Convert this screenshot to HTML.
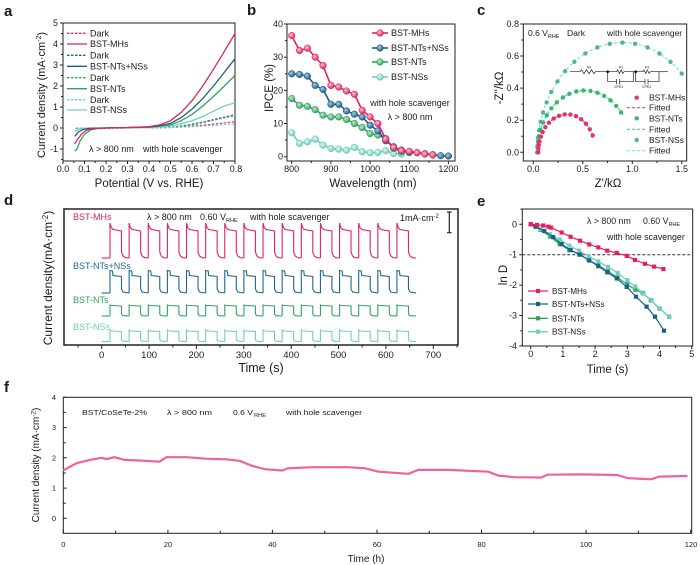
<!DOCTYPE html>
<html><head><meta charset="utf-8"><style>
html,body{margin:0;padding:0;background:#fff;overflow:hidden}
svg{display:block}
text{font-family:"Liberation Sans",Arial,sans-serif;fill:#1a1a1a}
</style></head><body>
<svg width="700" height="565" viewBox="0 0 700 565" xmlns="http://www.w3.org/2000/svg">
<defs>
<radialGradient id="gP" cx="0.4" cy="0.38" r="0.62"><stop offset="0" stop-color="#ffc4d6"/><stop offset="1" stop-color="#e3215f"/></radialGradient>
<radialGradient id="gB" cx="0.4" cy="0.38" r="0.62"><stop offset="0" stop-color="#a9cbe6"/><stop offset="1" stop-color="#1a5e8c"/></radialGradient>
<radialGradient id="gG" cx="0.4" cy="0.38" r="0.62"><stop offset="0" stop-color="#bdeccd"/><stop offset="1" stop-color="#2ea55e"/></radialGradient>
<radialGradient id="gT" cx="0.4" cy="0.38" r="0.62"><stop offset="0" stop-color="#e0f8f1"/><stop offset="1" stop-color="#6fcfbb"/></radialGradient>
<marker id="mbP" markerUnits="userSpaceOnUse" markerWidth="8" markerHeight="8" refX="4" refY="4"><circle cx="4" cy="4" r="3.3" fill="url(#gP)" stroke="#d01c55" stroke-width="0.5"/></marker>
<marker id="mbB" markerUnits="userSpaceOnUse" markerWidth="8" markerHeight="8" refX="4" refY="4"><circle cx="4" cy="4" r="3.3" fill="url(#gB)" stroke="#164f78" stroke-width="0.5"/></marker>
<marker id="mbG" markerUnits="userSpaceOnUse" markerWidth="8" markerHeight="8" refX="4" refY="4"><circle cx="4" cy="4" r="3.3" fill="url(#gG)" stroke="#25904f" stroke-width="0.5"/></marker>
<marker id="mbT" markerUnits="userSpaceOnUse" markerWidth="8" markerHeight="8" refX="4" refY="4"><circle cx="4" cy="4" r="3.3" fill="url(#gT)" stroke="#5bbda8" stroke-width="0.5"/></marker>
<marker id="mcP" markerUnits="userSpaceOnUse" markerWidth="6" markerHeight="6" refX="3" refY="3"><circle cx="3" cy="3" r="2.2" fill="#e8306a"/></marker>
<marker id="mcG" markerUnits="userSpaceOnUse" markerWidth="6" markerHeight="6" refX="3" refY="3"><circle cx="3" cy="3" r="2.2" fill="#3bb56e"/></marker>
<marker id="mcT" markerUnits="userSpaceOnUse" markerWidth="6" markerHeight="6" refX="3" refY="3"><circle cx="3" cy="3" r="2.2" fill="#4fb594"/></marker>
<marker id="meP" markerUnits="userSpaceOnUse" markerWidth="6" markerHeight="6" refX="3" refY="3"><rect x="0.9" y="0.9" width="4.2" height="4.2" fill="#e3215f"/></marker>
<marker id="meB" markerUnits="userSpaceOnUse" markerWidth="6" markerHeight="6" refX="3" refY="3"><rect x="0.9" y="0.9" width="4.2" height="4.2" fill="#1a5e8c"/></marker>
<marker id="meG" markerUnits="userSpaceOnUse" markerWidth="6" markerHeight="6" refX="3" refY="3"><rect x="0.9" y="0.9" width="4.2" height="4.2" fill="#2ea55e"/></marker>
<marker id="meT" markerUnits="userSpaceOnUse" markerWidth="6" markerHeight="6" refX="3" refY="3"><rect x="0.9" y="0.9" width="4.2" height="4.2" fill="#6fcfbb"/></marker>
<path id="dP" d="M0,258 L0,223 L1.2,227.5 L3,229.5 L11.5,231 L11.5,252 L13,256 L15.5,257.7 L19.13,258"/>
<path id="dB" d="M0,293 L0,270.5 L2.5,271 L3,275.5 L11.5,276.5 L11.5,289 L13,292 L19.13,293"/>
<path id="dG" d="M0,316 L0,305 L1.5,305.5 L11.5,306 L11.5,314 L13,315.7 L19.13,316"/>
<path id="dT" d="M0,341.5 L0,330 L1.5,331 L11.5,331.5 L11.5,340 L13,341.2 L19.13,341.5"/>
</defs>

<!-- Panel labels -->
<g font-weight="bold" font-size="15">
<text x="4" y="16">a</text><text x="247" y="15">b</text><text x="477" y="15">c</text>
<text x="4" y="205">d</text><text x="477" y="206">e</text><text x="4" y="392">f</text>
</g>

<!-- ===== Panel a ===== -->
<rect x="63" y="23" width="172" height="138" fill="none" stroke="#222" stroke-width="1"/>
<path fill="none" stroke="#222" stroke-width="1" d="M63,23h-3M63,44h-3M63,65h-3M63,86h-3M63,107h-3M63,128h-3M63,149h-3M63,33.5h-2M63,54.5h-2M63,75.5h-2M63,96.5h-2M63,117.5h-2M63,138.5h-2M63,159.5h-2M63,161v3M84.5,161v3M106,161v3M127.5,161v3M149,161v3M170.5,161v3M192,161v3M213.5,161v3M235,161v3M73.75,161v2M95.25,161v2M116.75,161v2M138.25,161v2M159.75,161v2M181.25,161v2M202.75,161v2M224.25,161v2"/>
<g font-size="9" text-anchor="end">
<text x="58" y="26">5</text><text x="58" y="47">4</text><text x="58" y="68">3</text><text x="58" y="89">2</text><text x="58" y="110">1</text><text x="58" y="131">0</text><text x="58" y="152">-1</text>
</g>
<g font-size="9" text-anchor="middle">
<text x="63" y="172">0.0</text><text x="84.5" y="172">0.1</text><text x="106" y="172">0.2</text><text x="127.5" y="172">0.3</text><text x="149" y="172">0.4</text><text x="170.5" y="172">0.5</text><text x="192" y="172">0.6</text><text x="213.5" y="172">0.7</text><text x="236" y="172">0.8</text>
</g>
<text x="149" y="187" font-size="11.5" text-anchor="middle">Potential (V vs. RHE)</text>
<text transform="translate(45,95) rotate(-90)" font-size="11" text-anchor="middle">Current density (mA·cm<tspan font-size="7" dy="-4">-2</tspan><tspan dy="4">)</tspan></text>
<!-- dark dashed -->
<g fill="none" stroke-width="1.1" stroke-dasharray="2.5,1.5">
<polyline stroke="#1a5e8c" points="75.9,128.5 106,128.2 149,127.8 170.5,127.2 181.3,125.9 192,124.2 202.8,122.1 213.5,119.6 224.3,117.1 235,114.6"/>
<polyline stroke="#2ea55e" points="75.9,128.3 106,128.1 149,127.9 170.5,127.4 181.3,126.3 192,124.9 202.8,122.7 213.5,120.2 224.3,117.8 235,115.4"/>
<polyline stroke="#e3215f" points="75.9,128 106,128 149,127.8 170.5,127.6 192,126.3 213.5,124.2 235,121.7"/>
<polyline stroke="#6fcfbb" points="75.9,128.2 106,128 149,127.9 170.5,127.5 192,126.7 213.5,125.5 235,123.8"/>
</g>
<g fill="none" stroke-width="1.3">
<polyline stroke="#6fcfbb" points="74.8,131.2 80.2,129 88.8,128 149,127.4 170.5,125.9 181.3,123.8 192,120.7 202.8,116.5 213.5,111.2 224.3,106 235,102.8"/>
<polyline stroke="#2ea55e" points="74.8,151.1 77,149 80.2,140.6 84.5,134.3 91,129.7 99.6,128.2 106,128 149,127.2 170.5,124.9 181.3,120.7 192,114.4 202.8,106 213.5,96.5 224.3,86 235,75.5"/>
<polyline stroke="#1a5e8c" points="74.8,136.4 78.1,132.2 82.4,129.7 88.8,128.4 106,128 149,127 159.8,125.9 170.5,123.4 181.3,117.5 192,109.1 202.8,98.6 213.5,86 224.3,72.4 235,58.7"/>
<polyline stroke="#e3215f" points="74.8,143.8 78.1,138.5 82.4,133.3 86.7,130.1 93.1,128.6 106,128 127.5,127.6 149,126.7 159.8,124.9 170.5,120.7 181.3,112.3 192,100.7 202.8,86 213.5,69.2 224.3,51.4 235,33.5"/>
</g>
<!-- legend a -->
<g fill="none" stroke-width="1.3">
<path stroke="#e3215f" stroke-dasharray="2.5,1.5" d="M67,33.3H87"/>
<path stroke="#e3215f" d="M67,44H87"/>
<path stroke="#1a5e8c" stroke-dasharray="2.5,1.5" d="M67,55.3H87"/>
<path stroke="#1a5e8c" d="M67,66.3H87"/>
<path stroke="#2ea55e" stroke-dasharray="2.5,1.5" d="M67,77.7H87"/>
<path stroke="#2ea55e" d="M67,88.7H87"/>
<path stroke="#6fcfbb" stroke-dasharray="2.5,1.5" d="M67,99.7H87"/>
<path stroke="#6fcfbb" d="M67,110H87"/>
</g>
<g font-size="9">
<text x="90" y="36.5">Dark</text><text x="90" y="47.2">BST-MHs</text><text x="90" y="58.5">Dark</text><text x="90" y="69.5">BST-NTs+NSs</text><text x="90" y="80.9">Dark</text><text x="90" y="91.9">BST-NTs</text><text x="90" y="102.9">Dark</text><text x="90" y="113.2">BST-NSs</text>
<text x="89" y="152">λ &gt; 800 nm</text><text x="143" y="152">with hole scavenger</text>
</g>

<!-- ===== Panel b ===== -->
<rect x="287" y="24" width="168" height="137" fill="none" stroke="#222" stroke-width="1"/>
<path fill="none" stroke="#222" stroke-width="1" d="M287,156.7h-3M287,123.5h-3M287,90.4h-3M287,57.2h-3M287,24h-3M287,140.1h-2M287,107h-2M287,73.8h-2M287,40.6h-2M291.7,161v3M330.9,161v3M370.1,161v3M409.3,161v3M448.4,161v3M311.3,161v2M350.5,161v2M389.7,161v2M428.9,161v2"/>
<g font-size="9" text-anchor="end">
<text x="283" y="159.7">0</text><text x="283" y="126.5">10</text><text x="283" y="93.4">20</text><text x="283" y="60.2">30</text><text x="283" y="27">40</text>
</g>
<g font-size="9" text-anchor="middle">
<text x="291.7" y="172">800</text><text x="330.9" y="172">900</text><text x="370.1" y="172">1000</text><text x="409.3" y="172">1100</text><text x="448.4" y="172">1200</text>
</g>
<text x="373" y="187" font-size="11.5" text-anchor="middle">Wavelength (nm)</text>
<text transform="translate(273,88) rotate(-90)" font-size="11.5" text-anchor="middle">IPCE (%)</text>
<g fill="none" stroke-width="1.6">
<polyline stroke="#6fcfbb" marker-start="url(#mbT)" marker-mid="url(#mbT)" marker-end="url(#mbT)" points="291.7,132.8 299.5,143.4 307.4,141.8 315.2,139.1 323,145.1 330.9,148.4 338.7,149.1 346.5,150.1 354.4,147.4 362.2,151.7 370.1,152.7 377.9,152.4 385.7,150.7 393.6,153.4 401.4,154"/>
<polyline stroke="#2ea55e" marker-start="url(#mbG)" marker-mid="url(#mbG)" marker-end="url(#mbG)" points="291.7,98.6 299.5,105.3 307.4,106.3 315.2,109.6 323,115.2 330.9,116.9 338.7,116.9 346.5,119.5 354.4,123.5 362.2,127.5 370.1,133.5 377.9,135.1 385.7,138.5 393.6,148.4 401.4,151.7 409.3,152.7"/>
<polyline stroke="#1a5e8c" marker-start="url(#mbB)" marker-mid="url(#mbB)" marker-end="url(#mbB)" points="291.7,73.8 299.5,74.4 307.4,76.1 315.2,85.4 323,89.4 330.9,104.3 338.7,104.3 346.5,110.9 354.4,114.2 362.2,116.9 370.1,125.2 377.9,130.8 385.7,140.8 393.6,146.7 401.4,150.1 409.3,151.7 417.1,152.7 424.9,153.7 432.8,154.7 440.6,155.7 448.4,156"/>
<polyline stroke="#e3215f" marker-start="url(#mbP)" marker-mid="url(#mbP)" marker-end="url(#mbP)" points="291.7,35.6 299.5,50.5 307.4,48.2 315.2,57.2 323,65.5 330.9,85.4 338.7,87 346.5,91 354.4,94.3 362.2,110.3 370.1,116.9 377.9,123.5 385.7,139.1 393.6,147.4 401.4,150.7 409.3,151.4 417.1,152.7 424.9,154 432.8,155"/>
</g>
<g fill="none" stroke-width="1.6">
<path stroke="#e3215f" marker-mid="url(#mbP)" d="M372,33L380,33L388,33"/>
<path stroke="#1a5e8c" marker-mid="url(#mbB)" d="M372,48L380,48L388,48"/>
<path stroke="#2ea55e" marker-mid="url(#mbG)" d="M372,62L380,62L388,62"/>
<path stroke="#6fcfbb" marker-mid="url(#mbT)" d="M372,77L380,77L388,77"/>
</g>
<g font-size="9">
<text x="391" y="36">BST-MHs</text><text x="391" y="51">BST-NTs+NSs</text><text x="391" y="65">BST-NTs</text><text x="391" y="80">BST-NSs</text>
<text x="410" y="106" text-anchor="middle">with hole scavenger</text>
<text x="410" y="120" text-anchor="middle">λ &gt; 800 nm</text>
</g>

<!-- ===== Panel c ===== -->
<rect x="523.3" y="24" width="163.4" height="137" fill="none" stroke="#222" stroke-width="1"/>
<path fill="none" stroke="#222" stroke-width="1" d="M523.3,152.3h-3M523.3,120.2h-3M523.3,88.1h-3M523.3,56h-3M523.3,24h-3M523.3,136.25h-2M523.3,104.15h-2M523.3,72.05h-2M523.3,40h-2M533.3,161v3M582.8,161v3M632.3,161v3M681.8,161v3M558.05,161v2M607.55,161v2M657.05,161v2"/>
<g font-size="9" text-anchor="end">
<text x="519" y="155.3">0.0</text><text x="519" y="123.2">0.2</text><text x="519" y="91.1">0.4</text><text x="519" y="59">0.6</text><text x="519" y="27">0.8</text>
</g>
<g font-size="9" text-anchor="middle">
<text x="533.3" y="172">0.0</text><text x="582.8" y="172">0.5</text><text x="632.3" y="172">1.0</text><text x="681.8" y="172">1.5</text>
</g>
<text x="608" y="187" font-size="11.5" text-anchor="middle">Z'/kΩ</text>
<text transform="translate(503,88) rotate(-90)" font-size="11.5" text-anchor="middle">-Z''/kΩ</text>
<g font-size="8.5">
<text x="528" y="36">0.6 V<tspan font-size="5.5" dy="2">RHE</tspan></text>
<text x="567" y="36">Dark</text>
<text x="607" y="36">with hole scavenger</text>
</g>
<!-- circuit -->
<g fill="none" stroke="#222" stroke-width="0.7">
<path d="M570,71.7H580L581.5,69.7L584,73.7L586.5,69.7L589,73.7L591.5,69.7L594,73.7L595.5,71.7H607.7"/>
<path d="M607.7,71.7H616.7L617.7,69.9L619.4,73.5L621.1,69.9L622.8,73.5L624,71.7H633.3V81.7H619.5M616.5,81.7H607.7V71.7M616.5,79V84.4M619.5,79V84.4"/>
<path d="M633.3,71.7H635.7"/>
<path d="M635.7,71.7H643L644,69.9L645.7,73.5L647.4,69.9L649.1,73.5L650.5,71.7H659V81.7H648M645,81.7H635.7V71.7M645,79V84.4M648,79V84.4"/>
<path d="M659,71.7H668"/>
</g>
<circle cx="607.7" cy="71.7" r="1.3" fill="#111"/><circle cx="635.7" cy="71.7" r="1.3" fill="#111"/>
<g font-size="3.5"><text x="587" y="68.5">Rs</text><text x="619" y="68.5">R1</text><text x="614" y="88">CPE1</text><text x="645" y="68.5">R2</text><text x="642" y="88">CPE2</text></g>
<!-- fitted -->
<g fill="none" stroke-width="1.2" stroke-dasharray="3,2">
<path stroke="#86dccb" d="M537.3,152.3A85.1,109.7 0 0 1 681.9,73.8"/>
<path stroke="#5ccf8c" d="M537.3,152.3A47.5,61.8 0 0 1 622.6,114.9"/>
<path stroke="#e8457a" d="M538.3,152.3A28.7,38 0 0 1 592.7,135.4"/>
</g>
<g fill="none" stroke="none">
<polyline marker-start="url(#mcT)" marker-mid="url(#mcT)" marker-end="url(#mcT)" points="537.3,152.3 537.5,145.6 538,137.9 539,130.3 540.6,121.8 543.1,112.4 546.6,102.4 551.3,92 557.5,81.4 565.1,71.2 574.4,61.8 585.4,53.5 597.3,47.5 609.8,43.8 622.5,42.6 635.2,43.8 647.6,47.5 659.5,53.6 670.5,61.8 681.7,73.6"/>
<polyline marker-start="url(#mcG)" marker-mid="url(#mcG)" marker-end="url(#mcG)" points="537.3,152.3 537.5,147.3 538,141.7 538.9,136.3 540.5,129.8 543.2,122.6 546.7,115.3 551.4,108.3 556.8,102.3 562.9,97.5 569.4,93.8 576.3,91.5 583.4,90.5 590.5,91 597.5,92.8 604.2,95.9 610.5,100.3 616.2,105.9 621.1,112.5"/>
<polyline marker-start="url(#mcP)" marker-mid="url(#mcP)" marker-end="url(#mcP)" points="538.3,152.3 538.4,148.8 538.8,145.1 539.5,141.4 540.8,136.7 542.6,132.1 545.4,127.2 548.9,122.7 553.7,118.6 559.1,115.8 564.7,114.4 570.4,114.6 576,116.2 581.2,119.3 585.9,123.7 589.8,129.3 592.7,135.4"/>
</g>
<circle cx="636.7" cy="97.7" r="2.2" fill="#e8306a"/>
<circle cx="636.7" cy="118.3" r="2.2" fill="#3bb56e"/>
<circle cx="636.7" cy="140" r="2.2" fill="#4fb594"/>
<g fill="none" stroke-width="1.2" stroke-dasharray="3,2">
<path stroke="#e8457a" d="M627,107.7H647"/><path stroke="#5ccf8c" d="M627,129.3H647"/><path stroke="#86dccb" d="M627,150.7H647"/>
</g>
<g font-size="8.5">
<text x="649" y="100.7">BST-MHs</text><text x="649" y="110.7">Fitted</text><text x="649" y="121.3">BST-NTs</text><text x="649" y="132.3">Fitted</text><text x="649" y="143">BST-NSs</text><text x="649" y="153.7">Fitted</text>
</g>

<!-- ===== Panel d ===== -->
<rect x="64" y="209" width="394" height="136" fill="none" stroke="#222" stroke-width="1.5"/>
<path fill="none" stroke="#222" stroke-width="1" d="M101.7,345v4M149.1,345v4M196.4,345v4M243.8,345v4M291.2,345v4M338.5,345v4M385.9,345v4M433.3,345v4M78,345v2.5M125.4,345v2.5M172.8,345v2.5M220.1,345v2.5M267.5,345v2.5M314.9,345v2.5M362.2,345v2.5M409.6,345v2.5M457,345v2.5"/>
<g font-size="9.5" text-anchor="middle">
<text x="101.7" y="358">0</text><text x="149.1" y="358">100</text><text x="196.4" y="358">200</text><text x="243.8" y="358">300</text><text x="291.2" y="358">400</text><text x="338.5" y="358">500</text><text x="385.9" y="358">600</text><text x="433.3" y="358">700</text>
</g>
<text x="261" y="372" font-size="12.5" text-anchor="middle">Time (s)</text>
<text transform="translate(52,278) rotate(-90)" font-size="12" text-anchor="middle">Current density(mA·cm<tspan font-size="8" dy="-4">-2</tspan><tspan dy="4">)</tspan></text>
<g fill="none" stroke-width="1.1">
<g stroke="#e3215f"><path d="M101.7,258H110"/>
<use href="#dP" x="110"/><use href="#dP" x="129.13"/><use href="#dP" x="148.26"/><use href="#dP" x="167.39"/><use href="#dP" x="186.52"/><use href="#dP" x="205.65"/><use href="#dP" x="224.78"/><use href="#dP" x="243.91"/><use href="#dP" x="263.04"/><use href="#dP" x="282.17"/><use href="#dP" x="301.3"/><use href="#dP" x="320.43"/><use href="#dP" x="339.56"/><use href="#dP" x="358.69"/><use href="#dP" x="377.82"/><use href="#dP" x="396.95"/></g>
<g stroke="#1f6690"><path d="M101.7,293H110"/>
<use href="#dB" x="110"/><use href="#dB" x="129.13"/><use href="#dB" x="148.26"/><use href="#dB" x="167.39"/><use href="#dB" x="186.52"/><use href="#dB" x="205.65"/><use href="#dB" x="224.78"/><use href="#dB" x="243.91"/><use href="#dB" x="263.04"/><use href="#dB" x="282.17"/><use href="#dB" x="301.3"/><use href="#dB" x="320.43"/><use href="#dB" x="339.56"/><use href="#dB" x="358.69"/><use href="#dB" x="377.82"/><use href="#dB" x="396.95"/></g>
<g stroke="#2ea55e"><path d="M101.7,316H110"/>
<use href="#dG" x="110"/><use href="#dG" x="129.13"/><use href="#dG" x="148.26"/><use href="#dG" x="167.39"/><use href="#dG" x="186.52"/><use href="#dG" x="205.65"/><use href="#dG" x="224.78"/><use href="#dG" x="243.91"/><use href="#dG" x="263.04"/><use href="#dG" x="282.17"/><use href="#dG" x="301.3"/><use href="#dG" x="320.43"/><use href="#dG" x="339.56"/><use href="#dG" x="358.69"/><use href="#dG" x="377.82"/><use href="#dG" x="396.95"/></g>
<g stroke="#6fcfbb"><path d="M101.7,341.5H110"/>
<use href="#dT" x="110"/><use href="#dT" x="129.13"/><use href="#dT" x="148.26"/><use href="#dT" x="167.39"/><use href="#dT" x="186.52"/><use href="#dT" x="205.65"/><use href="#dT" x="224.78"/><use href="#dT" x="243.91"/><use href="#dT" x="263.04"/><use href="#dT" x="282.17"/><use href="#dT" x="301.3"/><use href="#dT" x="320.43"/><use href="#dT" x="339.56"/><use href="#dT" x="358.69"/><use href="#dT" x="377.82"/><use href="#dT" x="396.95"/></g>
</g>
<g font-size="9">
<text x="73" y="220" style="fill:#e3215f">BST-MHs</text>
<text x="73" y="269" style="fill:#1f6690">BST-NTs+NSs</text>
<text x="73" y="303" style="fill:#2ea55e">BST-NTs</text>
<text x="73" y="330" style="fill:#6fcfbb">BST-NSs</text>
<text x="147" y="220">λ &gt; 800 nm</text>
<text x="200" y="220">0.60 V<tspan font-size="5.5" dy="2">RHE</tspan></text>
<text x="250" y="220">with hole scavenger</text>
<text x="400" y="221">1mA·cm<tspan font-size="6" dy="-3">-2</tspan></text>
</g>
<path fill="none" stroke="#222" stroke-width="1.2" d="M449.3,212V232.7M447,212H451.6M447,232.7H451.6"/>

<!-- ===== Panel e ===== -->
<rect x="522.3" y="209" width="170.4" height="137" fill="none" stroke="#222" stroke-width="1"/>
<path fill="none" stroke="#222" stroke-width="1" d="M530.7,346v3M562.9,346v3M595.1,346v3M627.3,346v3M659.5,346v3M691.7,346v3M546.8,346v2M579,346v2M611.2,346v2M643.4,346v2M675.6,346v2M522.3,224.3h-3M522.3,254.7h-3M522.3,285.1h-3M522.3,315.5h-3M522.3,345.9h-3M522.3,209.1h-2M522.3,239.5h-2M522.3,269.9h-2M522.3,300.3h-2M522.3,330.7h-2"/>
<path fill="none" stroke="#333" stroke-width="1" stroke-dasharray="3,2" d="M522.3,254.7H692.7"/>
<g font-size="9" text-anchor="end">
<text x="517" y="227.3">0</text><text x="517" y="257.7">-1</text><text x="517" y="288.1">-2</text><text x="517" y="318.5">-3</text><text x="517" y="348.9">-4</text>
</g>
<g font-size="9" text-anchor="middle">
<text x="530.7" y="357">0</text><text x="562.9" y="357">1</text><text x="595.1" y="357">2</text><text x="627.3" y="357">3</text><text x="659.5" y="357">4</text><text x="691.7" y="357">5</text>
</g>
<text x="607.5" y="373" font-size="11.5" text-anchor="middle">Time (s)</text>
<text transform="translate(507,275) rotate(-90)" font-size="11.5" text-anchor="middle">ln D</text>
<g fill="none" stroke-width="1.2">
<polyline stroke="#2ea55e" marker-start="url(#meG)" marker-mid="url(#meG)" marker-end="url(#meG)" points="530.7,224.3 540.4,229.8 550,236.5 559.7,244.1 569.3,250.1 579,254.1 588.7,259.9 598.3,265.3 608,271.4 617.6,277.5 627.3,284.5 635.4,289.7 642.8,293 650.8,300.3 659.5,308.5 669.2,316.7"/>
<polyline stroke="#6fcfbb" marker-start="url(#meT)" marker-mid="url(#meT)" marker-end="url(#meT)" points="530.7,224.3 540.4,228.9 550,234.3 559.7,239.5 569.3,245.6 579,250.7 588.7,256.2 598.3,261.4 608,266.9 617.6,272.9 627.3,280.3 635.4,286.6 643.4,293.6 651.5,300.9 660.1,308.8 669.2,317"/>
<polyline stroke="#1a5e8c" marker-start="url(#meB)" marker-mid="url(#meB)" marker-end="url(#meB)" points="530.7,224.3 535.5,226.7 544.2,231 553.2,237.1 561.6,244.1 570.6,250.1 580,254.7 589.3,260.5 598.3,266.2 607.3,272.3 616.7,278.4 626.7,286.9 636,296.7 646.6,306.7 655,316.7 664,330.7"/>
<polyline stroke="#e3215f" marker-start="url(#meP)" marker-mid="url(#meP)" marker-end="url(#meP)" points="530.7,224.3 537.1,224.9 543.3,225.5 548.4,226.7 551,227.6 561.6,232.5 570.6,236.8 580,240.7 589.3,244.4 598.3,247.4 607.3,250.7 616.7,252.9 626.7,255.9 635,259.9 645,263.8 654,266.6 663.4,269"/>
</g>
<g fill="none" stroke-width="1.3">
<path stroke="#e3215f" marker-mid="url(#meP)" d="M528,291L538,291L548,291"/>
<path stroke="#1a5e8c" marker-mid="url(#meB)" d="M528,304L538,304L548,304"/>
<path stroke="#2ea55e" marker-mid="url(#meG)" d="M528,318.3L538,318.3L548,318.3"/>
<path stroke="#6fcfbb" marker-mid="url(#meT)" d="M528,331.7L538,331.7L548,331.7"/>
</g>
<g font-size="8.2">
<text x="552" y="294">BST-MHs</text><text x="552" y="307">BST-NTs+NSs</text><text x="552" y="321.3">BST-NTs</text><text x="552" y="334.7">BST-NSs</text>
</g>
<g font-size="8.8">
<text x="587" y="224">λ &gt; 800 nm</text>
<text x="643" y="224">0.60 V<tspan font-size="5.5" dy="2">RHE</tspan></text>
<text x="607" y="240">with hole scavenger</text>
</g>

<!-- ===== Panel f ===== -->
<rect x="63.3" y="397.3" width="628.4" height="136" fill="none" stroke="#222" stroke-width="1"/>
<path fill="none" stroke="#222" stroke-width="1" d="M63.3,533.3v-3.5M167.9,533.3v-3.5M272.4,533.3v-3.5M377,533.3v-3.5M481.5,533.3v-3.5M586.1,533.3v-3.5M690.7,533.3v-3.5M115.6,533.3v-2.5M220.2,533.3v-2.5M324.7,533.3v-2.5M429.3,533.3v-2.5M533.8,533.3v-2.5M638.4,533.3v-2.5M63.3,397.3h3.5M63.3,427.6h3.5M63.3,457.8h3.5M63.3,488.1h3.5M63.3,518.3h3.5M63.3,412.4h2.5M63.3,442.7h2.5M63.3,473h2.5M63.3,503.2h2.5"/>
<g font-size="7.5" text-anchor="end">
<text x="56" y="400">4</text><text x="56" y="430.2">3</text><text x="56" y="460.4">2</text><text x="56" y="490.7">1</text><text x="56" y="520.9">0</text>
</g>
<g font-size="7.5" text-anchor="middle">
<text x="63.3" y="547">0</text><text x="167.9" y="547">20</text><text x="272.4" y="547">40</text><text x="377" y="547">60</text><text x="481.5" y="547">80</text><text x="586.1" y="547">100</text><text x="691" y="547">120</text>
</g>
<text x="366" y="562" font-size="10" text-anchor="middle">Time (h)</text>
<text transform="translate(39,465) rotate(-90)" font-size="10" text-anchor="middle">Current density (mA·cm<tspan font-size="6.5" dy="-3.5">-2</tspan><tspan dy="3.5">)</tspan></text>
<g font-size="7.5">
<text x="82" y="415" textLength="65" lengthAdjust="spacingAndGlyphs">BST/CoSeTe-2%</text>
<text x="167" y="415" textLength="45" lengthAdjust="spacingAndGlyphs">λ &gt; 800 nm</text>
<text x="233" y="415" textLength="20" lengthAdjust="spacingAndGlyphs">0.6 V</text>
<text x="254" y="417" font-size="5" textLength="12" lengthAdjust="spacingAndGlyphs">RHE</text>
<text x="286" y="415" textLength="76" lengthAdjust="spacingAndGlyphs">with hole scavenger</text>
</g>
<polyline fill="none" stroke="#f0619f" stroke-width="2.2" stroke-linejoin="round" points="63.3,470.4 76.6,463.2 89.9,459.9 101.5,457.8 106.4,459 114.7,457.2 124.7,459.9 139.6,460.5 159.5,461.7 166.3,457.2 186.2,457.2 206,458.7 225.9,459.3 239.5,460.8 252.6,466 265.6,469.3 282.4,470.5 287.6,468.4 312.2,467.2 348.7,467.2 365.5,468.4 378.5,471.7 408.4,473.8 418.3,469.9 448.6,469.9 488.3,471.7 498.3,475.6 514.5,477.2 541.1,477.5 547.9,474.7 580.9,474.4 617.5,475 627.4,478.1 650.9,479.3 659.3,476.6 687.5,476"/>
</svg>
</body></html>
